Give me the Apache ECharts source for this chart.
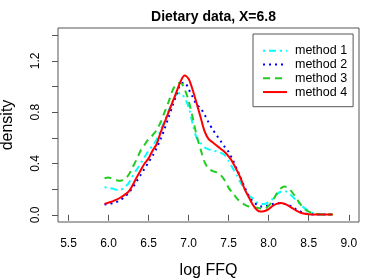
<!DOCTYPE html>
<html>
<head>
<meta charset="utf-8">
<script src="https://cdn.jsdelivr.net/npm/echarts@6/dist/echarts.min.js"></script>
<style>html,body{margin:0;padding:0;background:#fff;}#c{width:374px;height:280px;}</style>
</head>
<body>
<div id="c"></div>
<script>
var xs = [5.95,6.00,6.05,6.10,6.15,6.20,6.25,6.30,6.35,6.40,6.45,6.50,6.55,6.60,6.65,6.70,6.75,6.80,6.85,6.90,6.95,7.00,7.05,7.10,7.15,7.20,7.25,7.30,7.35,7.40,7.45,7.50,7.55,7.60,7.65,7.70,7.75,7.80,7.85,7.90,7.95,8.00,8.05,8.10,8.15,8.20,8.25,8.30,8.35,8.40,8.45,8.50,8.55,8.60,8.65,8.70,8.75,8.80];
var method1 = [0.215,0.21,0.205,0.195,0.195,0.215,0.245,0.30,0.35,0.40,0.45,0.50,0.54,0.585,0.66,0.73,0.81,0.88,0.94,0.95,0.91,0.84,0.71,0.60,0.56,0.525,0.51,0.50,0.495,0.485,0.465,0.42,0.365,0.31,0.25,0.20,0.15,0.13,0.10,0.085,0.085,0.10,0.125,0.16,0.18,0.185,0.17,0.14,0.11,0.08,0.05,0.03,0.015,0.008,0.004,0.003,0.003,0.003];
var method2 = [0.08,0.085,0.09,0.10,0.115,0.14,0.17,0.21,0.26,0.31,0.36,0.41,0.46,0.52,0.59,0.67,0.76,0.85,0.94,1.02,1.03,0.98,0.92,0.86,0.83,0.78,0.72,0.665,0.62,0.575,0.53,0.49,0.43,0.36,0.29,0.215,0.15,0.105,0.08,0.065,0.065,0.075,0.085,0.09,0.09,0.085,0.075,0.06,0.04,0.025,0.012,0.006,0.003,0.003,0.003,0.003,0.003,0.003];
var method3 = [0.285,0.29,0.28,0.27,0.265,0.28,0.31,0.37,0.43,0.50,0.545,0.59,0.62,0.66,0.72,0.80,0.88,0.97,1.02,1.03,0.98,0.89,0.76,0.62,0.51,0.41,0.36,0.34,0.33,0.31,0.27,0.21,0.17,0.13,0.10,0.08,0.065,0.06,0.055,0.05,0.05,0.07,0.11,0.165,0.205,0.22,0.205,0.17,0.125,0.08,0.045,0.025,0.012,0.006,0.003,0.003,0.003,0.003];
var method4 = [0.085,0.095,0.105,0.118,0.135,0.155,0.18,0.23,0.29,0.345,0.40,0.44,0.50,0.55,0.64,0.72,0.80,0.88,0.96,1.04,1.085,1.06,0.975,0.87,0.76,0.65,0.59,0.565,0.54,0.515,0.49,0.455,0.41,0.35,0.285,0.20,0.14,0.08,0.04,0.025,0.03,0.045,0.07,0.085,0.092,0.085,0.07,0.05,0.03,0.016,0.008,0.004,0.003,0.002,0.002,0.002,0.002,0.002];
var xTicks = [5.5,6.0,6.5,7.0,7.5,8.0,8.5,9.0];
var yTicks = [0,0.2,0.4,0.6,0.8,1.0,1.2,1.4];
var yLabels = [0,0.4,0.8,1.2];
var names = ['method 1','method 2','method 3','method 4'];

function pairs(ys){ return xs.map(function(x,i){ return [x, ys[i]]; }); }

var FONT = 'Liberation Sans, Arial, sans-serif';
var chart = echarts.init(document.getElementById('c'), null, {renderer:'canvas'});
var styles = [
  {color:'#00FFFF', type:[2,4,7,4], width:2},
  {color:'#0000FF', type:[2,4], width:2},
  {color:'#22CC22', type:[7,5], width:2},
  {color:'#FF0000', type:'solid', width:2}
];
var datas = [method1, method2, method3, method4];
chart.setOption({
  animation:false,
  backgroundColor:'#fff',
  title:{text:'Dietary data, X=6.8', left:208.5, top:5, textAlign:'center',
    textStyle:{fontFamily:FONT, fontSize:14, fontWeight:'bold', color:'#000'}},
  grid:{left:58, right:15, top:28, bottom:58, show:true, borderColor:'#555', borderWidth:1,
    backgroundColor:'transparent', containLabel:false, outerBoundsMode:'none'},
  legend:{orient:'vertical', left:253, top:34, padding:[10,6,8,9], itemGap:0.5,
    itemWidth:24, itemHeight:10, borderColor:'#555', borderWidth:1, borderRadius:0,
    backgroundColor:'#fff', data:names,
    itemStyle:{opacity:0},
    textStyle:{fontFamily:FONT, fontSize:12.5, lineHeight:13.3, color:'#000', padding:[0,0,0,3]}},
  xAxis:{type:'value', min:5.369, max:9.128, name:'log FFQ', nameLocation:'middle', nameGap:41,
    nameTextStyle:{fontFamily:FONT, fontSize:16, color:'#000'},
    axisLine:{show:false}, splitLine:{show:false},
    axisTick:{show:true, inside:false, length:6, lineStyle:{color:'#555'}, customValues:xTicks},
    axisLabel:{customValues:xTicks, margin:16, fontFamily:FONT, fontSize:12, color:'#000',
      formatter:function(v){return v.toFixed(1);}}},
  yAxis:{type:'value', min:-0.056, max:1.456, name:'density', nameLocation:'middle', nameGap:42,
    nameTextStyle:{fontFamily:FONT, fontSize:16, color:'#000'},
    axisLine:{show:false}, splitLine:{show:false},
    axisTick:{show:true, inside:false, length:6, lineStyle:{color:'#555'}, customValues:yTicks},
    axisLabel:{customValues:yLabels, rotate:90, margin:16, fontFamily:FONT, fontSize:12, color:'#000',
      formatter:function(v){return v.toFixed(1);}}},
  series: names.map(function(n,i){
    return {name:n, type:'line', data:pairs(datas[i]), smooth:0.3, symbol:'none', showSymbol:false,
      lineStyle:styles[i], itemStyle:{color:styles[i].color}, z: (i===3?5:2)};
  })
});
</script>
</body>
</html>
